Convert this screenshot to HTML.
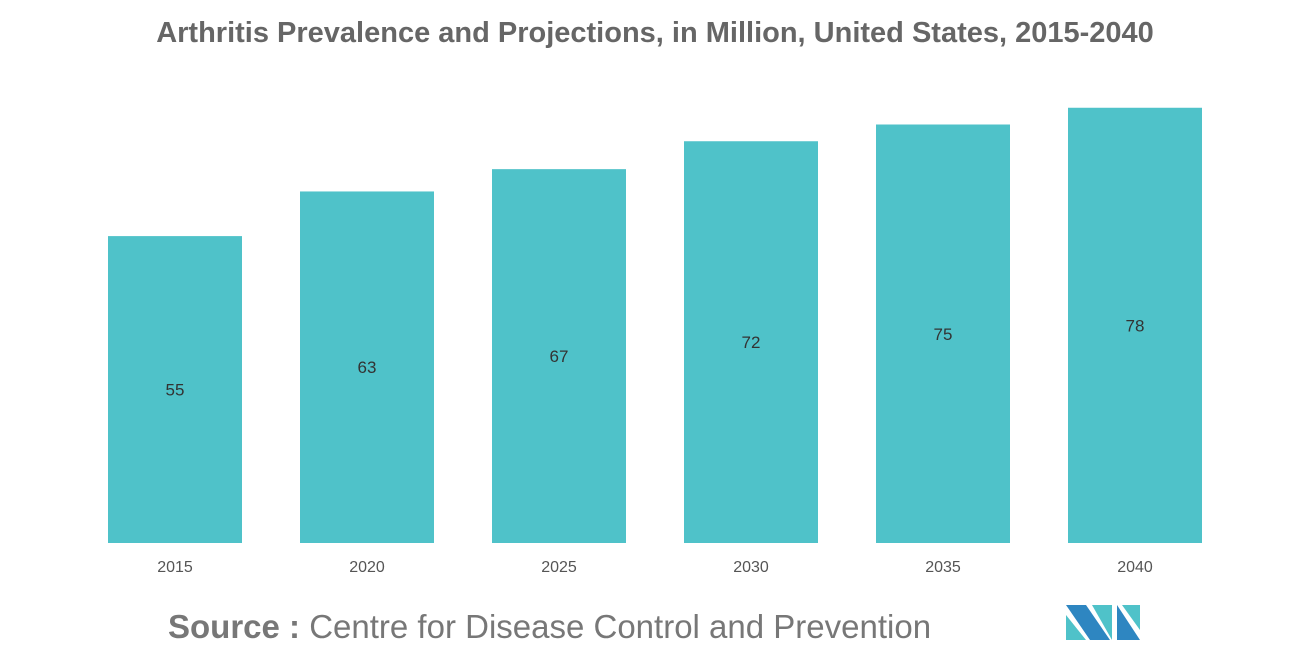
<!DOCTYPE html>
<html><head><meta charset="utf-8"><style>
body{margin:0;width:1310px;height:655px;background:#fff;overflow:hidden;font-family:"Liberation Sans",sans-serif}
</style></head><body>
<svg width="1310" height="655">
<text x="655" y="42" text-anchor="middle" font-size="29" font-weight="bold" fill="#666">Arthritis Prevalence and Projections, in Million, United States, 2015-2040</text>
<g id="bars"></g>
<text x="168" y="638" font-size="33" fill="#777"><tspan font-weight="bold">Source :</tspan> Centre for Disease Control and Prevention</text>
<g>
<polygon points="1066,605 1086,605 1110,640 1090,640" fill="#2e86c1"/>
<polygon points="1066,615 1086,640 1066,640" fill="#4fc2c9"/>
<polygon points="1092,605 1112,605 1112,640" fill="#4fc2c9"/>
<polygon points="1117,605 1140,640 1117,640" fill="#2e86c1"/>
<polygon points="1122,605 1140,605 1140,630" fill="#4fc2c9"/>
</g>
</svg>
<script>
const categories=["2015","2020","2025","2030","2035","2040"];
const values=[55,63,67,72,75,78];
const ns="http://www.w3.org/2000/svg";
const g=document.getElementById("bars");
const base=543,scale=5.58,x0=108,pitch=192,bw=134;
function xPos(i){return x0+i*pitch;}
function yPos(v){return base-v*scale;}
categories.forEach((c,i)=>{
 const r=document.createElementNS(ns,"rect");
 
 
 r.setAttribute("x",xPos(i));r.setAttribute("y",yPos(values[i]));
 r.setAttribute("width",bw);r.setAttribute("height",base-yPos(values[i]));
 r.setAttribute("fill","#4fc2c9");g.appendChild(r);
 const t=document.createElementNS(ns,"text");
 
 
 t.setAttribute("x",xPos(i)+bw/2);t.setAttribute("y",(yPos(values[i])+base)/2+6);
 t.setAttribute("text-anchor","middle");t.setAttribute("font-size","17");t.setAttribute("fill","#333");
 t.textContent=values[i];g.appendChild(t);
 const l=document.createElementNS(ns,"text");
 
 
 l.setAttribute("x",xPos(i)+bw/2);l.setAttribute("y",572);
 l.setAttribute("text-anchor","middle");l.setAttribute("font-size","16");l.setAttribute("fill","#555");
 l.textContent=c;g.appendChild(l);
});
</script>
</body></html>
